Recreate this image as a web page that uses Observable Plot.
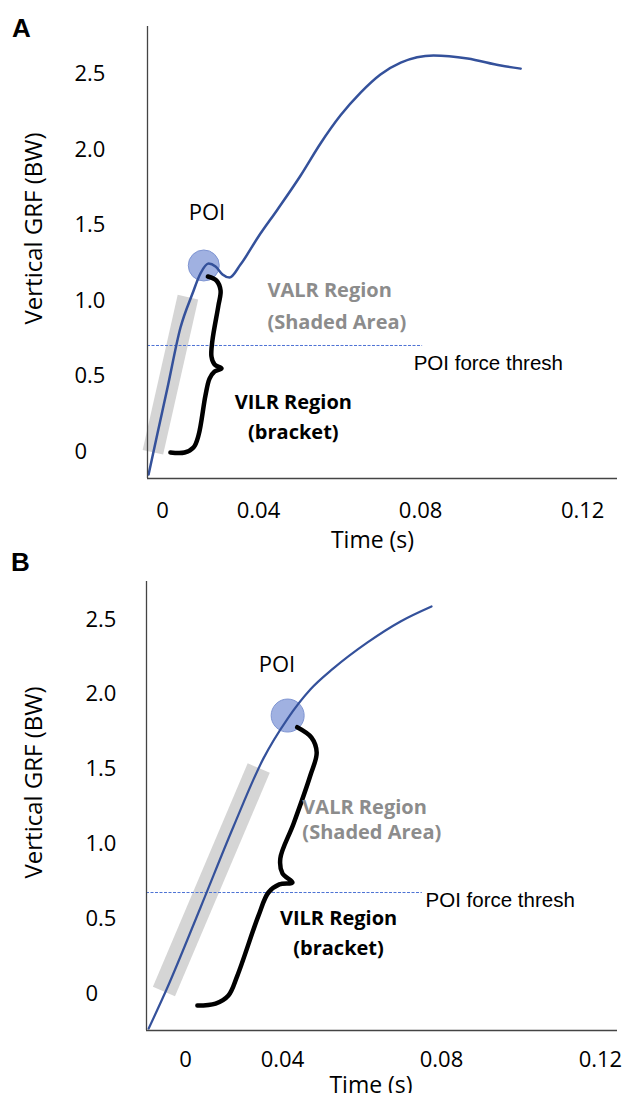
<!DOCTYPE html>
<html><head><meta charset="utf-8">
<script src="https://cdn.jsdelivr.net/npm/d3@7"></script>
<script src="https://cdn.jsdelivr.net/npm/@observablehq/plot@0.6"></script>
<style>
body{margin:0;background:#fff;width:630px;height:1093px;position:relative;overflow:hidden;font-family:"Open Sans",sans-serif}
#a{position:absolute;left:0;top:0}
#b{position:absolute;left:0;top:546px}
</style></head><body><div id="a"></div><div id="b"></div>
<script>
// ---- shared ticks ----
const xTicks = [0, 0.04, 0.08, 0.12];
const yTicks = [0, 0.5, 1.0, 1.5, 2.0, 2.5];
const panelLabels = ["A", "B"];
const xTitle = "Time (s)";
const yTitle = "Vertical GRF (BW)";
const threshLabel = "POI force thresh";
const valrLines = ["VALR Region", "(Shaded Area)"];
const vilrLines = ["VILR Region", "(bracket)"];

// ---- panel A ----
const xDomainA = [-0.00625, 0, 0.04, 0.1286];
const yDomainA = [-0.179, 2.815];
const timeA = [-0.0058, -0.0021, 0.0021, 0.0075, 0.0125, 0.0158, 0.0192, 0.0221, 0.0250, 0.0279, 0.0325, 0.0400, 0.0447, 0.0504, 0.0553, 0.0602, 0.0652, 0.0701, 0.0751, 0.0832, 0.0916, 0.0998, 0.1047];
const grfA = [-0.152, 0.119, 0.424, 0.821, 1.046, 1.179, 1.245, 1.225, 1.172, 1.152, 1.238, 1.424, 1.603, 1.828, 2.040, 2.225, 2.377, 2.497, 2.576, 2.623, 2.603, 2.556, 2.536];
const poiTimeA = 0.0172, poiGrfA = 1.232;
const threshA = 0.702, threshEndA = 0.0805;
const bandTimeA = [-0.0040, 0.0106];
const bandGrfA = [-0.005, 1.022];
const bracketTimeA = [0.0189, 0.0225, 0.0242, 0.0233, 0.0208, 0.0204, 0.0217, 0.0246, 0.0217, 0.0196, 0.0179, 0.0150, 0.0129, 0.0092, 0.0033];
const bracketGrfA = [1.159, 1.132, 1.066, 0.967, 0.735, 0.629, 0.576, 0.550, 0.530, 0.483, 0.371, 0.106, 0.026, -0.007, -0.007];
const poiLabelA = [0.0185, 1.583];
const valrPosA = [0.0422, 1.066, 0.854];
const vilrPosA = [0.0486, 0.3245, 0.126];
const threshLabelPosA = [0.0783, 0.583];

// ---- panel B ----
const xDomainB = [-0.0161, 0, 0.04, 0.1243];
const yDomainB = [-0.2473, 2.754];
const timeB = [-0.0152, -0.0082, 0.0062, 0.0198, 0.0321, 0.0413, 0.0470, 0.0528, 0.0614, 0.0697, 0.0775];
const grfB = [-0.234, 0.013, 0.575, 1.116, 1.570, 1.838, 2.032, 2.173, 2.347, 2.487, 2.587];
const poiTimeB = 0.0413, poiGrfB = 1.858;
const threshB = 0.675, threshEndB = 0.0752;
const bandTimeB = [-0.0089, 0.0302];
const bandGrfB = [0.013, 1.507];
const bracketTimeB = [0.0437, 0.0473, 0.0486, 0.0470, 0.0428, 0.0391, 0.0400, 0.0425, 0.0387, 0.0342, 0.0301, 0.0214, 0.0177, 0.0124, 0.0049];
const bracketGrfB = [1.780, 1.711, 1.611, 1.457, 1.136, 0.902, 0.802, 0.742, 0.729, 0.675, 0.521, 0.120, -0.013, -0.067, -0.080];
const poiLabelB = [0.0377, 2.199];
const valrPosB = [0.0450, 1.243, 1.076];
const vilrPosB = [0.0541, 0.501, 0.301];
const threshLabelPosB = [0.0760, 0.622];

const fmtX = d => d === 0 ? "0" : String(d);
const fmtY = d => d === 0 ? "0" : d.toFixed(1);

function panel(c) {
  return Plot.plot({
    width: 630, height: c.height,
    marginLeft: c.ml, marginRight: 13, marginTop: c.mt, marginBottom: c.mb,
    x: {type: "linear", domain: c.xDomain, range: c.xRange},
    y: {domain: c.yDomain},
    style: {fontFamily: "'Open Sans', sans-serif", fontSize: "22px", background: "transparent", overflow: "visible", color: "#000"},
    marks: [
      Plot.line(c.bandGrf, {x: c.bandTime, y: c.bandGrf, stroke: "#d5d5d5", strokeWidth: c.bandW, strokeLinecap: "butt"}),
      Plot.ruleY([c.thresh], {x1: c.xDomain[0], x2: c.threshEnd, stroke: "#4d72d4", strokeWidth: 1, strokeDasharray: "3,1.5"}),
      Plot.dot([c.poiGrf], {x: [c.poiTime], y: [c.poiGrf], r: c.poiR, fill: "#8fa3dc", fillOpacity: 0.85, stroke: "#7f95d2", strokeWidth: 1}),
      Plot.line(c.bracketGrf, {x: c.bracketTime, y: c.bracketGrf, curve: "catmull-rom", stroke: "#000", strokeWidth: 4.5, strokeLinecap: "round", strokeLinejoin: "round"}),
      Plot.line(c.grf, {x: c.time, y: c.grf, curve: "monotone-x", stroke: "#34519b", strokeWidth: c.lineW}),
      Plot.ruleX([c.xDomain[0]], {stroke: "#444", strokeWidth: 1.3}),
      Plot.ruleY([c.yDomain[0]], {stroke: "#444", strokeWidth: 1.3}),
      Plot.axisY({ticks: yTicks, tickSize: 0, tickPadding: 0, textAnchor: "start", dx: c.yTickDx, tickFormat: fmtY, label: null, fontSize: 22}),
      Plot.axisX({ticks: xTicks, tickSize: 0, tickPadding: c.xTickPad, tickFormat: fmtX, label: null, fontSize: 22}),
      Plot.text([xTitle], {frameAnchor: "bottom", textAnchor: "middle", lineAnchor: "middle", dx: c.xTitleDx, dy: c.xTitleDy, fontSize: 23}),
      Plot.text([yTitle], {frameAnchor: "left", textAnchor: "middle", lineAnchor: "middle", rotate: -90, dx: c.yTitleDx, dy: c.yTitleDy, fontSize: 24}),
      Plot.text([c.letter], {frameAnchor: "top-left", textAnchor: "middle", lineAnchor: "middle", dx: -126, dy: c.letterDy, fontSize: 26, fontWeight: "bold", fontFamily: "'Liberation Sans', Arial, sans-serif"}),
      Plot.text(["POI"], {x: [c.poiLabel[0]], y: [c.poiLabel[1]], fontSize: 22}),
      Plot.text(valrLines, {x: [c.valr[0], c.valr[0]], y: [c.valr[1], c.valr[2]], textAnchor: "start", fill: "#8c8c8c", fontWeight: "bold", fontSize: 20}),
      Plot.text(vilrLines, {x: [c.vilr[0], c.vilr[0]], y: [c.vilr[1], c.vilr[2]], fill: "#000", fontWeight: "bold", fontSize: 20}),
      Plot.text([threshLabel], {x: [c.threshLabelPos[0]], y: [c.threshLabelPos[1]], textAnchor: "start", fontSize: 20.5, fontFamily: "'Liberation Sans', Arial, sans-serif"})
    ]
  });
}

document.getElementById("a").append(panel({
  height: 546, ml: 147, mt: 26, mb: 68,
  xDomain: xDomainA, xRange: [147, 162, 258, 617], yDomain: yDomainA,
  time: timeA, grf: grfA, poiTime: poiTimeA, poiGrf: poiGrfA, poiR: 15.5,
  thresh: threshA, threshEnd: threshEndA, bandTime: bandTimeA, bandGrf: bandGrfA, bandW: 21,
  bracketTime: bracketTimeA, bracketGrf: bracketGrfA, lineW: 2.5,
  yTickDx: -73, xTickPad: 24, xTitleDx: -10, xTitleDy: 62, yTitleDx: -113, yTitleDy: -24,
  letter: panelLabels[0], letterDy: 2,
  poiLabel: poiLabelA, valr: valrPosA, vilr: vilrPosA, threshLabelPos: threshLabelPosA
}));

document.getElementById("b").append(panel({
  height: 547, ml: 146, mt: 35, mb: 63,
  xDomain: xDomainB, xRange: [146, 185, 282, 617], yDomain: yDomainB,
  time: timeB, grf: grfB, poiTime: poiTimeB, poiGrf: poiGrfB, poiR: 16.5,
  thresh: threshB, threshEnd: threshEndB, bandTime: bandTimeB, bandGrf: bandGrfB, bandW: 24,
  bracketTime: bracketTimeB, bracketGrf: bracketGrfB, lineW: 2.2,
  yTickDx: -61, xTickPad: 21, xTitleDx: -11, xTitleDy: 55, yTitleDx: -112, yTitleDy: -23.5,
  letter: panelLabels[1], letterDy: -19,
  poiLabel: poiLabelB, valr: valrPosB, vilr: vilrPosB, threshLabelPos: threshLabelPosB
}));
</script></body></html>
